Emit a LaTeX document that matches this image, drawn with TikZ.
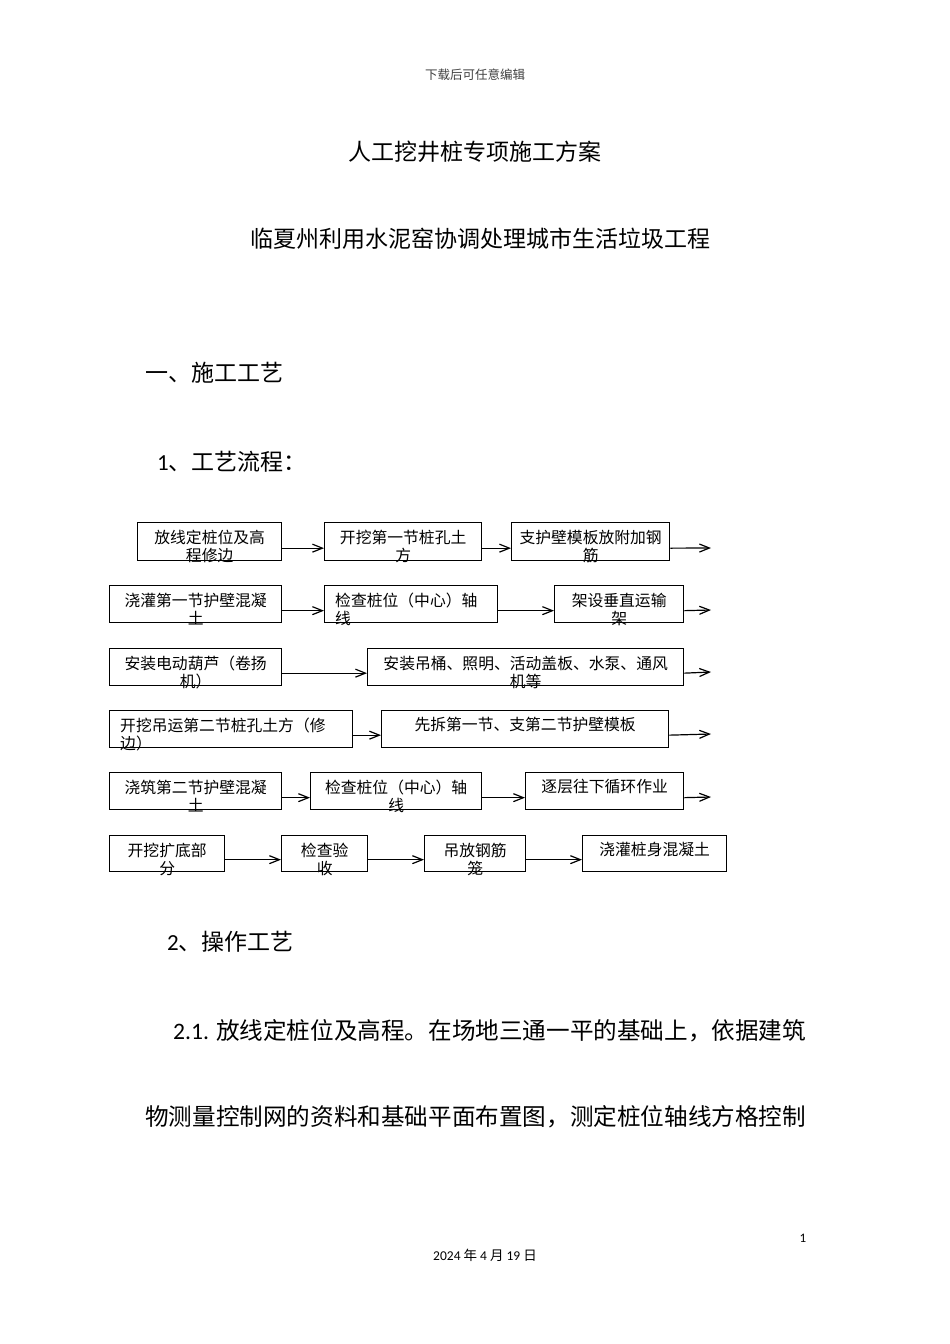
\documentclass[tikz,border=0pt]{standalone}
\usepackage{fontspec}
\setmainfont{Noto Sans CJK SC}
\newfontfamily\lat{Carlito}
\usetikzlibrary{arrows.meta}
\begin{document}
\begin{tikzpicture}[x=1pt,y=-1pt,
  box/.style={draw, line width=1.3pt, inner sep=0pt, anchor=north west},
  btext/.style={anchor=north, inner sep=0pt, font=\fontsize{15.8}{18}\selectfont, align=center},
  ltext/.style={anchor=north west, inner sep=0pt, font=\fontsize{15.8}{18}\selectfont, align=left},
  arr/.style={line width=1.2pt, -{Straight Barb[length=10pt,width=8pt]}},
  head/.style={inner sep=0pt, font=\fontsize{23}{26}\selectfont},
  body/.style={inner sep=0pt, anchor=west, font=\fontsize{23.6}{28}\selectfont}]
\useasboundingbox (0,0) rectangle (950,1344);
\fill[white] (0,0) rectangle (950,1344);

% header/footer
\node[inner sep=0pt, text=black!75, font=\fontsize{12.5}{14}\selectfont] (hdr) at (475,75) {下载后可任意编辑};
\node[inner sep=0pt, font=\lat\fontsize{13}{15}\selectfont] (pg) at (803,1238) {1};
\node[inner sep=0pt, font=\fontsize{13.5}{15}\selectfont] (date) at (485,1255) {{\lat 2024} 年 {\lat 4} 月 {\lat 19} 日};

% titles
\node[head] (t1) at (475,152) {人工挖井桩专项施工方案};
\node[head] (t2) at (480,239) {临夏州利用水泥窑协调处理城市生活垃圾工程};
\node[head, anchor=west] (h1) at (145,373) {一、施工工艺};
\node[head, anchor=west] (h2) at (157,462) {{\lat 1}、工艺流程：};
\node[head, anchor=west] (h3) at (167,942) {{\lat 2}、操作工艺};
\node[body] (p1) at (173,1031) {{\lat 2.1.} 放线定桩位及高程。在场地三通一平的基础上，依据建筑};
\node[body] (p2) at (145,1117) {物测量控制网的资料和基础平面布置图，测定桩位轴线方格控制};

% Row 1
\node[box, minimum width=144pt, minimum height=38pt] (a1) at (137,522) {};
\node[box, minimum width=157pt, minimum height=38pt] (a2) at (324,522) {};
\node[box, minimum width=158pt, minimum height=38pt] (a3) at (511,522) {};
\node[btext] at ([yshift=-8pt]a1.north) {放线定桩位及高\\程修边};
\node[btext] at ([yshift=-8pt]a2.north) {开挖第一节桩孔土\\方};
\node[btext] at ([yshift=-8pt]a3.north) {支护壁模板放附加钢\\筋};
\coordinate (e1) at (711,548);
\draw[arr] ([yshift=-6.5pt]a1.east) -- ([yshift=-6.5pt]a2.west);
\draw[arr] ([yshift=-6.5pt]a2.east) -- ([yshift=-6.5pt]a3.west);
\draw[arr] ([yshift=-6.5pt]a3.east) -- (e1);

% Row 2
\node[box, minimum width=172pt, minimum height=37pt] (b1) at (109,585) {};
\node[box, minimum width=173pt, minimum height=37pt] (b2) at (324,585) {};
\node[box, minimum width=129pt, minimum height=37pt] (b3) at (554,585) {};
\node[btext] at ([yshift=-8pt]b1.north) {浇灌第一节护壁混凝\\土};
\node[ltext] at ([xshift=11pt,yshift=-8pt]b2.north west) {检查桩位（中心）轴\\线};
\node[btext] at ([yshift=-8pt]b3.north) {架设垂直运输\\架};
\coordinate (e2) at (711,610);
\draw[arr] ([yshift=-6.5pt]b1.east) -- ([yshift=-6.5pt]b2.west);
\draw[arr] ([yshift=-6.5pt]b2.east) -- ([yshift=-6.5pt]b3.west);
\draw[arr] ([yshift=-6.5pt]b3.east) -- (e2);

% Row 3
\node[box, minimum width=172pt, minimum height=37pt] (c1) at (109,648) {};
\node[box, minimum width=316pt, minimum height=37pt] (c2) at (367,648) {};
\node[btext] at ([yshift=-8pt]c1.north) {安装电动葫芦（卷扬\\机）};
\node[btext] at ([yshift=-8pt]c2.north) {安装吊桶、照明、活动盖板、水泵、通风\\机等};
\coordinate (e3) at (711,672);
\draw[arr] ([yshift=-6pt]c1.east) -- ([yshift=-6pt]c2.west);
\draw[arr] ([yshift=-6pt]c2.east) -- (e3);

% Row 4
\node[box, minimum width=243pt, minimum height=37pt] (d1) at (109,710) {};
\node[box, minimum width=287pt, minimum height=37pt] (d2) at (381,710) {};
\node[ltext] at ([xshift=11pt,yshift=-8pt]d1.north west) {开挖吊运第二节桩孔土方（修\\边）};
\node[btext] at ([yshift=-7pt]d2.north) {先拆第一节、支第二节护壁模板};
\coordinate (e4) at (711,734);
\draw[arr] ([yshift=-6pt]d1.east) -- ([yshift=-6pt]d2.west);
\draw[arr] ([yshift=-6pt]d2.east) -- (e4);

% Row 5
\node[box, minimum width=172pt, minimum height=37pt] (f1) at (109,772) {};
\node[box, minimum width=171pt, minimum height=37pt] (f2) at (310,772) {};
\node[box, minimum width=158pt, minimum height=37pt] (f3) at (525,772) {};
\node[btext] at ([yshift=-8pt]f1.north) {浇筑第二节护壁混凝\\土};
\node[btext] at ([yshift=-8pt]f2.north) {检查桩位（中心）轴\\线};
\node[btext] at ([yshift=-7pt]f3.north) {逐层往下循环作业};
\coordinate (e5) at (711,797);
\draw[arr] ([yshift=-6.5pt]f1.east) -- ([yshift=-6.5pt]f2.west);
\draw[arr] ([yshift=-6.5pt]f2.east) -- ([yshift=-6.5pt]f3.west);
\draw[arr] ([yshift=-6.5pt]f3.east) -- (e5);

% Row 6
\node[box, minimum width=115pt, minimum height=36pt] (g1) at (109,835) {};
\node[box, minimum width=86pt, minimum height=36pt] (g2) at (281,835) {};
\node[box, minimum width=101pt, minimum height=36pt] (g3) at (424,835) {};
\node[box, minimum width=144pt, minimum height=36pt] (g4) at (582,835) {};
\node[btext] at ([yshift=-8pt]g1.north) {开挖扩底部\\分};
\node[btext] at ([yshift=-8pt]g2.north) {检查验\\收};
\node[btext] at ([yshift=-8pt]g3.north) {吊放钢筋\\笼};
\node[btext] at ([yshift=-7pt]g4.north) {浇灌桩身混凝土};
\draw[arr] ([yshift=-6pt]g1.east) -- ([yshift=-6pt]g2.west);
\draw[arr] ([yshift=-6pt]g2.east) -- ([yshift=-6pt]g3.west);
\draw[arr] ([yshift=-6pt]g3.east) -- ([yshift=-6pt]g4.west);
\end{tikzpicture}
\end{document}
